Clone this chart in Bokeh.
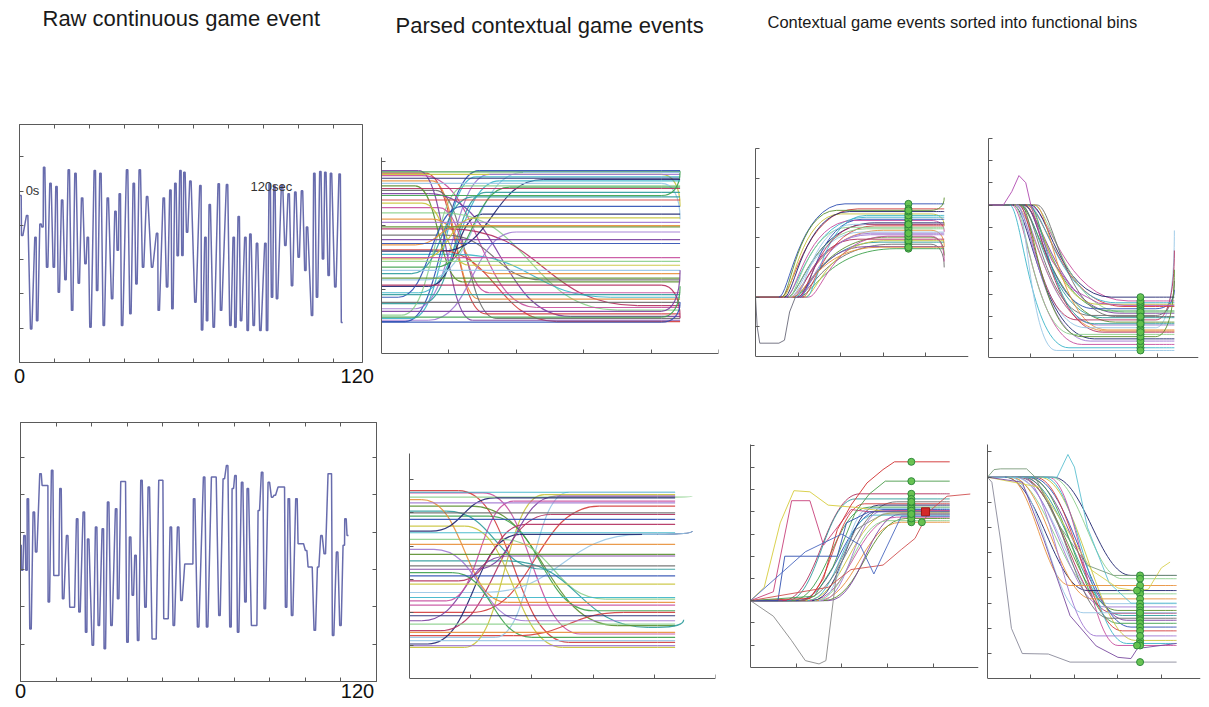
import numpy as np
from bokeh.plotting import figure
from bokeh.models import Range1d, LinearAxis, FixedTicker, Label
from bokeh.layouts import column, row
from bokeh.embed import file_html
from bokeh.resources import INLINE

# ---------------- data ----------------
# raw continuous event, top panel: turning points (seconds, level)
raw_top_t = [0.36, 0.96, 2.75, 4.18, 5.73, 6.33, 7.53, 8.24, 8.84, 9.92,
             11.11, 12.31, 13.26, 14.10, 15.29, 16.49, 17.68, 18.88, 20.07, 21.27,
             22.46, 23.66, 24.49, 25.45, 27.00, 27.84, 29.03, 30.23, 31.66, 33.21,
             34.41, 35.24, 35.96, 36.80, 38.59, 39.78, 40.98, 41.94, 43.13, 44.32,
             45.76, 47.55, 49.34, 49.94, 51.73, 52.93, 54.12, 54.84, 55.91, 56.75,
             57.71, 58.42, 59.14, 60.10, 61.29, 63.08, 64.87, 65.47, 66.67, 67.26,
             68.22, 69.65, 71.44, 72.28, 74.43, 75.63, 76.82, 77.42, 78.61, 79.45,
             81.00, 81.84, 82.80, 83.99, 85.18, 86.38, 88.17, 88.77, 89.72, 90.56,
             91.40, 92.35, 94.15, 95.34, 96.53, 97.73, 98.92, 100.12, 101.31, 102.51,
             103.11, 104.90, 105.73, 106.69, 107.89, 108.84, 109.68, 110.87, 111.71, 113.26,
             114.81, 115.65]
raw_top_v = [4.87, 3.70, 4.29, 0.98, 3.65, 1.22, 4.04, 3.95, 5.69, 2.78,
             5.23, 2.78, 5.13, 2.05, 4.74, 2.41, 5.62, 1.52, 5.52, 2.31,
             4.80, 2.88, 3.65, 1.03, 5.60, 2.10, 5.52, 1.08, 4.80, 1.86,
             4.41, 3.27, 4.92, 1.08, 5.62, 1.42, 5.23, 2.29, 5.62, 2.78,
             4.84, 2.78, 3.77, 1.52, 4.80, 2.20, 5.03, 1.57, 5.23, 3.11,
             5.60, 3.12, 5.55, 3.80, 5.29, 1.76, 5.16, 0.95, 3.65, 1.22,
             4.61, 1.03, 5.21, 1.52, 5.19, 1.08, 3.65, 1.03, 4.26, 1.22,
             3.65, 0.93, 3.75, 1.08, 3.48, 0.93, 3.48, 0.93, 5.21, 1.90,
             5.16, 1.86, 5.16, 3.41, 4.92, 2.24, 4.97, 3.07, 5.01, 2.68,
             3.95, 1.37, 5.52, 1.90, 5.57, 3.02, 5.55, 2.54, 5.52, 2.20,
             5.50, 1.17]

# raw continuous event, bottom panel
raw_bot_t = [0.0, 0.56, 1.35, 2.02, 2.47, 3.37, 4.49, 5.28, 6.74, 7.53,
             8.99, 9.55, 10.67, 11.46, 12.70, 13.48, 14.38, 15.73, 16.85, 17.98,
             19.10, 19.89, 21.35, 22.13, 22.81, 24.38, 25.50, 26.40, 27.75, 28.42,
             29.55, 30.67, 32.24, 32.92, 34.04, 35.16, 36.06, 36.96, 37.86, 38.76,
             39.66, 40.78, 42.13, 43.25, 44.60, 45.50, 46.85, 47.75, 48.53, 49.55,
             50.67, 51.68, 53.14, 54.26, 55.61, 57.86, 58.53, 59.88, 61.90, 62.91,
             64.60, 65.72, 67.07, 68.53, 69.66, 70.78, 71.57, 72.46, 73.36, 74.71,
             75.83, 76.62, 78.08, 79.43, 80.33, 81.45, 82.35, 83.70, 84.82, 85.72,
             87.07, 88.75, 89.54, 90.44, 91.56, 93.02, 93.81, 95.16, 96.28, 97.18,
             98.08, 99.20, 100.33, 101.45, 102.57, 103.92, 104.59, 105.38, 106.73, 107.85,
             108.98, 109.54, 110.32]
raw_bot_v = [3.65, 2.98, 3.91, 2.98, 4.90, 1.41, 4.54, 3.47, 5.57, 5.25,
             5.25, 2.13, 5.66, 2.84, 2.84, 5.17, 2.22, 3.91, 1.99, 1.99,
             4.36, 1.86, 4.54, 1.32, 3.82, 0.97, 4.14, 1.50, 4.09, 0.88,
             4.81, 1.50, 4.63, 2.22, 5.36, 5.36, 1.05, 3.87, 2.31, 3.38,
             1.10, 5.39, 1.99, 5.21, 1.14, 1.14, 5.39, 5.39, 1.68, 1.68,
             4.14, 1.50, 4.14, 2.17, 3.15, 3.15, 4.90, 1.46, 5.48, 1.46,
             5.48, 5.48, 1.77, 5.43, 5.79, 1.46, 5.17, 5.52, 1.32, 5.34,
             2.13, 5.17, 1.50, 1.50, 4.58, 5.61, 1.95, 5.34, 4.94, 4.99,
             5.21, 5.21, 1.99, 4.90, 1.77, 4.90, 3.69, 3.69, 3.51, 3.07,
             3.07, 1.37, 3.07, 3.91, 3.42, 5.57, 5.57, 1.23, 3.47, 1.50,
             3.65, 4.36, 3.91]

# time-axis end labels of the raw panels (position in seconds, text)
raw_top_end_t = [0, 121.1]
raw_bot_end_t = [0, 113.6]
raw_end_text = ["0", "120"]

# parsed contextual events, top: start level, transition start/end, plateau, final level
p2_start = [2.86, 2.84, 0.50, 2.82, 2.80, 0.55, 2.78, 2.74, 0.60, 2.70,
            2.66, 0.70, 2.62, 2.58, 0.78, 2.55, 2.50, 2.47, 0.88, 2.40,
            2.35, 0.95, 2.28, 1.05, 2.20, 2.10, 1.15, 2.05, 1.98, 1.95,
            1.25, 1.85, 1.78, 1.35, 1.72, 1.62, 1.48, 1.55, 1.50, 1.60,
            1.44, 1.70, 1.30, 0.52, 1.18, 1.07, 0.92, 0.80, 0.66, 0.57, 0.49]
p2_t0 = [0.55, 0, 0.35, 0.65, 0, 0.45, 0.60, 0, 0.30, 0.75,
         0, 0.50, 0.50, 0, 0.60, 0.80, 0.70, 0, 0.25, 0,
         0.60, 0.55, 0.85, 0.70, 0.90, 0.75, 0.65, 0, 0, 1.00,
         0.45, 0.95, 0, 0.80, 0, 0.80, 0.60, 1.10, 0, 0.90,
         0, 0.50, 0, 0.70, 0, 0, 0, 0, 0, 0, 0]
p2_t1 = [1.35, 0, 1.45, 1.55, 0, 1.40, 2.30, 0, 1.25, 1.45,
         0, 1.60, 1.20, 0, 1.55, 1.70, 2.80, 0, 1.20, 0,
         1.30, 1.75, 1.60, 1.50, 3.50, 1.65, 2.10, 0, 0, 3.80,
         1.35, 2.40, 0, 1.90, 0, 2.60, 1.40, 3.40, 0, 2.40,
         0, 1.20, 0, 2.00, 0, 0, 0, 0, 0, 0, 0]
p2_level = [0.52, 2.84, 2.86, 0.62, 2.80, 2.76, 0.72, 2.74, 2.62, 0.85,
            2.66, 2.80, 1.12, 2.58, 2.52, 0.55, 0.58, 2.47, 2.30, 2.40,
            1.38, 2.70, 0.95, 2.18, 0.68, 1.25, 2.83, 2.05, 1.98, 0.75,
            2.45, 1.15, 1.78, 2.60, 1.72, 0.50, 2.12, 0.88, 1.50, 2.72,
            1.44, 2.00, 1.30, 1.90, 1.18, 1.07, 0.92, 0.80, 0.66, 0.57, 0.49]
p2_end = [0.52, 2.84, 2.86, 0.62, 2.30, 2.76, 0.72, 2.74, 2.62, 0.85,
          2.10, 2.80, 1.12, 2.58, 2.52, 0.55, 0.58, 2.85, 2.30, 2.40,
          1.38, 2.70, 0.95, 2.18, 0.68, 1.25, 2.83, 2.05, 1.98, 0.75,
          2.45, 1.15, 1.78, 2.60, 1.72, 0.50, 2.12, 0.88, 1.50, 2.72,
          1.44, 2.00, 1.30, 1.90, 1.18, 0.55, 0.92, 0.80, 1.30, 1.05, 0.80]
p2_last_t = 4.43

# parsed contextual events, bottom
p6_start = [5.67, 0.95, 5.62, 5.60, 1.05, 5.47, 5.40, 1.25, 5.30, 5.20,
            1.45, 5.05, 5.00, 1.75, 4.90, 4.80, 2.00, 4.60, 4.40, 2.35,
            4.45, 4.20, 4.05, 2.60, 3.90, 3.75, 2.95, 3.55, 3.40, 3.30,
            3.20, 3.10, 1.30, 2.85, 2.45, 2.22, 1.90, 1.65, 1.40, 1.15, 1.00]
p6_t0 = [0.80, 0.90, 0, 1.20, 0.30, 0, 0.20, 1.40, 0, 1.00,
         0.50, 0.60, 0, 0.20, 1.30, 0, 1.00, 0.90, 0, 0.60,
         0.35, 1.50, 0, 1.20, 0.40, 0, 0.80, 1.60, 0, 1.10,
         0.70, 0, 1.70, 0, 0, 0, 0, 0, 0, 0, 0]
p6_t1 = [2.60, 2.20, 0, 2.80, 1.80, 0, 1.60, 2.60, 0, 3.40,
         2.30, 2.20, 0, 1.60, 3.00, 0, 3.10, 2.50, 0, 1.70,
         1.40, 3.20, 0, 3.80, 1.90, 0, 1.90, 3.90, 0, 2.40,
         2.00, 0, 3.50, 0, 0, 0, 0, 0, 0, 0, 0]
p6_level = [1.10, 5.55, 5.62, 1.35, 4.35, 5.47, 2.30, 5.62, 5.30, 1.60,
            4.95, 3.30, 5.00, 3.70, 2.05, 4.80, 5.20, 0.95, 4.40, 5.35,
            5.45, 2.40, 4.05, 4.35, 1.75, 3.75, 4.65, 1.55, 3.40, 5.50,
            1.25, 3.10, 2.00, 2.85, 2.45, 2.22, 1.90, 1.65, 1.40, 1.15, 1.00]
p6_end = [1.10, 5.55, 5.62, 1.35, 4.45, 5.50, 2.30, 5.62, 5.30, 1.60,
          4.95, 3.30, 5.00, 3.70, 2.05, 4.80, 5.20, 0.95, 4.40, 5.35,
          5.45, 2.40, 4.05, 4.45, 1.75, 3.75, 4.65, 1.78, 3.40, 5.50,
          1.25, 3.10, 2.00, 2.85, 2.45, 2.22, 1.90, 1.65, 1.40, 1.15, 1.00]
p6_last_t = [4.34, 4.34, 4.34, 4.34, 4.62, 4.62, 4.34, 4.34, 4.34, 4.34,
             4.34, 4.34, 4.34, 4.34, 4.34, 4.34, 4.34, 4.34, 4.34, 4.34,
             4.34, 4.34, 4.34, 4.62, 4.34, 4.34, 4.34, 4.48, 4.34, 4.34,
             4.34, 4.34, 4.34, 4.34, 4.34, 4.34, 4.34, 4.34, 4.34, 4.34, 4.34]

# functional bin 1 (top): rising events
p3_base = 2.0
p3_t0 = [0.55, 0.60, 0.65, 0.70, 0.72, 0.75, 0.78, 0.80, 0.82, 0.85,
         0.88, 0.90, 0.92, 0.95, 0.98, 1.00, 1.05, 1.10, 1.15, 1.20,
         1.25, 0.68, 0.76, 0.86, 0.94, 1.02, 0.62, 1.00]
p3_t1 = [2.10, 2.40, 2.00, 2.60, 2.30, 2.80, 2.20, 3.00, 2.50, 2.70,
         3.10, 2.40, 2.90, 3.20, 2.60, 3.30, 2.50, 2.80, 3.00, 2.60,
         3.10, 2.20, 2.60, 2.90, 2.30, 2.70, 1.90, 2.60]
p3_level = [5.14, 4.97, 4.80, 4.69, 4.58, 4.50, 4.35, 4.25, 4.19, 4.10,
            4.02, 3.95, 3.85, 3.78, 3.70, 3.63, 4.62, 4.40, 3.90, 4.75,
            4.05, 4.88, 4.30, 3.68, 4.45, 4.15, 4.92, 4.45]
p3_end = [5.14, 4.97, 4.40, 4.69, 4.20, 4.50, 4.35, 3.70, 4.19, 4.10,
          3.40, 3.95, 3.85, 3.00, 3.70, 3.63, 4.62, 4.40, 3.90, 4.75,
          3.20, 4.88, 4.30, 3.68, 4.45, 4.15, 5.35, 4.45]
p3_dip_x = [0.0, 0.04, 0.10, 0.55, 0.68, 0.80, 0.95]
p3_dip_y = [2.0, 1.0, 0.45, 0.45, 0.55, 1.5, 2.05]
p3_mark_t = 3.59

# functional bin 2 (top): falling events
p4_base = 7.0
p4_t0 = [0.50, 0.55, 0.58, 0.60, 0.62, 0.65, 0.68, 0.70, 0.72, 0.75,
         0.78, 0.80, 0.82, 0.85, 0.88, 0.90, 0.92, 0.95, 1.00, 1.05,
         1.10, 0.70, 0.64, 0.76, 0.86, 0.96, 1.15]
p4_t1 = [1.90, 2.20, 2.50, 2.00, 2.80, 2.30, 2.60, 3.00, 2.10, 2.70,
         2.40, 3.10, 2.90, 2.50, 3.20, 2.60, 3.00, 3.30, 2.90, 3.20,
         2.80, 1.60, 2.40, 2.20, 2.70, 2.50, 3.00]
p4_level = [0.60, 0.75, 1.00, 1.20, 1.35, 1.50, 1.62, 1.75, 1.85, 1.95,
            2.05, 2.15, 2.25, 2.35, 2.45, 2.55, 2.62, 2.70, 2.87, 2.20,
            1.40, 0.48, 0.90, 1.10, 1.30, 1.68, 2.00]
p4_end = [0.60, 0.75, 1.00, 1.20, 1.35, 5.86, 1.62, 1.75, 4.96, 1.95,
          3.60, 2.15, 2.25, 3.20, 2.45, 2.55, 2.62, 2.70, 2.87, 2.20,
          1.40, 0.48, 0.90, 4.10, 1.30, 1.68, 2.00]
p4_bump_x = [0.0, 0.35, 0.55, 0.72, 0.88, 1.0, 1.2, 1.5, 2.0, 2.6, 3.2, 4.39]
p4_bump_y = [7.0, 7.0, 7.6, 8.32, 8.0, 7.0, 5.8, 4.5, 3.2, 2.6, 2.5, 2.5]
p4_mark_t = 3.59

# functional bin 1 (bottom)
p7_base = 3.0
p7_t0 = [0.9, 1.0, 1.1, 1.2, 1.25, 1.3, 1.35, 1.4, 1.45, 1.5, 1.55, 1.6, 0.7, 0.8, 1.05, 1.7]
p7_t1 = [2.6, 2.9, 2.5, 3.1, 2.7, 3.2, 2.8, 3.0, 3.3, 2.6, 2.9, 3.4, 2.4, 2.3, 3.2, 3.3]
p7_level = [7.21, 7.10, 7.36, 6.95, 6.85, 6.76, 7.30, 6.60, 6.53, 7.15, 7.05, 6.70, 7.81, 7.58, 7.45, 6.90]
p7_sp_x = [
    [0, 0.3, 0.65, 0.95, 1.3, 1.7, 2.3, 3.0, 4.36],
    [0, 0.5, 0.9, 1.3, 1.6, 2.2, 2.6, 3.2, 4.36],
    [0, 0.5, 0.9, 1.2, 1.5, 1.65, 1.9, 2.3, 2.9, 4.36],
    [0, 1.3, 1.6, 1.9, 2.2, 2.55, 2.9, 3.15, 4.36],
    [0, 1.4, 1.8, 2.3, 2.6, 2.95, 4.36],
    [0, 0.6, 0.75, 1.9, 2.1, 2.6, 4.36],
    [0, 1.7, 2.2, 2.9, 3.3, 3.6, 3.9, 4.3, 4.81],
    [0, 1.2, 2.0, 2.4, 2.7, 3.0, 3.3, 4.36],
]
p7_sp_y = [
    [3.0, 3.6, 6.5, 7.95, 7.9, 7.3, 7.2, 7.0, 7.0],
    [3.0, 3.4, 7.5, 7.5, 5.5, 7.1, 7.0, 7.05, 7.05],
    [3.0, 2.3, 1.2, 0.3, 0.15, 0.3, 4.5, 6.2, 6.9, 6.9],
    [3.0, 3.1, 4.0, 6.2, 7.3, 8.3, 8.9, 9.25, 9.25],
    [3.0, 3.2, 4.5, 7.0, 7.8, 8.38, 8.38],
    [3.0, 3.0, 5.0, 5.0, 6.5, 7.0, 7.0],
    [3.0, 3.6, 4.4, 4.6, 5.3, 5.8, 7.0, 7.7, 7.8],
    [3.0, 5.2, 6.0, 5.5, 4.2, 5.5, 6.8, 6.8],
]
p7_mark_t = 3.52
p7_top_marks = [9.25, 8.38]
p7_red_t = [3.83]
p7_red_v = [7.0]
p7_extra_t = [3.75]
p7_extra_v = [6.53]

# functional bin 2 (bottom)
p8_base = 8.0
p8_t0 = [0.40, 0.50, 0.55, 0.60, 0.65, 0.70, 0.75, 0.80, 0.85, 0.90, 0.95,
         1.00, 1.10, 1.20, 1.30, 1.40, 1.50, 1.45, 0.45, 0.52, 0.78]
p8_t1 = [2.30, 2.60, 2.40, 2.80, 2.70, 3.00, 2.90, 3.10, 2.80, 3.20, 3.00,
         3.30, 3.10, 3.40, 3.20, 3.00, 3.30, 3.10, 1.90, 2.20, 2.50]
p8_level = [3.50, 3.37, 3.17, 2.98, 2.85, 2.71, 2.60, 2.51, 2.40, 2.32, 2.20,
            2.05, 1.90, 1.52, 1.40, 1.32, 4.10, 3.97, 3.70, 2.62, 1.70]
p8_sp_x = [
    [0, 0.1, 0.3, 0.55, 0.8, 1.4, 1.9, 4.35],
    [0, 1.2, 1.6, 1.85, 2.0, 2.3, 2.8, 3.3, 4.35],
    [0, 1.2, 1.8, 2.4, 3.0, 3.4, 3.7, 4.0, 4.2],
    [0, 0.15, 0.3, 0.9, 1.1, 1.6, 2.3, 2.9, 4.35],
    [0, 0.8, 1.3, 1.9, 2.5, 3.0, 3.3, 3.45, 4.35],
]
p8_sp_y = [
    [8.0, 7.8, 5.5, 2.0, 1.0, 0.98, 0.66, 0.66],
    [8.0, 8.0, 8.0, 8.9, 8.4, 6.0, 3.8, 3.0, 3.0],
    [8.0, 7.6, 6.0, 4.3, 3.6, 3.5, 3.55, 4.4, 4.63],
    [8.0, 8.3, 8.33, 8.33, 8.0, 6.2, 4.5, 4.1, 4.1],
    [8.0, 7.8, 5.5, 2.5, 1.3, 0.85, 0.8, 1.2, 1.4],
]
p8_mark_t = 3.51
p8_low_marks = [0.66]
p8_extra_t = [3.44, 3.44]
p8_extra_v = [3.50, 1.32]

# ---------------- styling ----------------
PAL = ['#7b3fa0', '#3da14b', '#2e4fb2', '#d33c3c', '#c9c33a', '#3bb5c9', '#c64f9e',
       '#1e246e', '#8ccf8c', '#e8903a', '#98c6e6', '#a078d2', '#5b8f2e', '#b22f5e',
       '#2f9c9c', '#6b6b6b']
P7_SP_COLORS = ['#d6cc3c', '#c8407a', '#8a8a8a', '#d03030', '#4a9c4a', '#3050b0',
                '#d05050', '#4a68c0']
P8_SP_COLORS = ['#8a8a9a', '#5cc0d0', '#d8d050', '#7a9a7a', '#7a4aa0']
AX = '#5a5a5a'
RAW = '#585ca4'
DOT_FILL = '#63c24c'
DOT_LINE = '#2f8a3c'
FONT = "Liberation Sans"


def make_fig(w, h, xr, yr, bl, br, bt, bb):
    p = figure(width=w, height=h, x_range=Range1d(*xr), y_range=Range1d(*yr),
               output_backend="svg", toolbar_location=None,
               x_axis_location=None, y_axis_location=None,
               min_border_left=bl, min_border_right=br,
               min_border_top=bt, min_border_bottom=bb)
    p.grid.visible = False
    p.outline_line_color = None
    p.background_fill_color = "white"
    p.border_fill_color = "white"
    return p


def add_axis(p, loc, ticks, bounds=None, fixed=None):
    ax = LinearAxis(ticker=FixedTicker(ticks=ticks))
    if bounds is not None:
        ax.bounds = bounds
    if fixed is not None:
        ax.fixed_location = fixed
    ax.major_tick_in = 4
    ax.major_tick_out = 0
    ax.minor_tick_line_color = None
    ax.major_label_text_font_size = "1px"
    ax.major_label_text_color = None
    ax.major_label_standoff = 0
    ax.axis_line_color = AX
    ax.major_tick_line_color = AX
    p.add_layout(ax, loc)


def add_end_labels(p, ticks, texts, size, standoff):
    ax = LinearAxis(ticker=FixedTicker(ticks=ticks))
    ax.major_label_overrides = {t: s for t, s in zip(ticks, texts)}
    ax.axis_line_color = None
    ax.major_tick_line_color = None
    ax.minor_tick_line_color = None
    ax.major_tick_in = 0
    ax.major_tick_out = 0
    ax.major_label_text_font = FONT
    ax.major_label_text_font_size = size
    ax.major_label_text_color = "#111111"
    ax.major_label_standoff = standoff
    p.add_layout(ax, "below")


def draw_family(p, y0, t0, t1, y1, xb, xe, y2, k0, k1, off=0, lw=1.0, alpha=0.9):
    y0 = np.asarray(y0, float)
    t0 = np.asarray(t0, float)
    t1 = np.asarray(t1, float)
    y1 = np.asarray(y1, float)
    y2 = np.asarray(y2, float)
    n = len(t0)
    xe = np.broadcast_to(np.asarray(xe, float), (n,)).copy()
    xbv = np.full(n, xb)
    cols = [PAL[(i + off) % len(PAL)] for i in range(n)]
    d = t1 - t0
    kw = dict(line_color=cols, line_width=lw, line_alpha=alpha)
    p.segment(x0=np.zeros(n), y0=y0, x1=t0, y1=y0, **kw)
    p.bezier(x0=t0, y0=y0, x1=t1, y1=y1, cx0=t0 + k0 * d, cy0=y0,
             cx1=t0 + k1 * d, cy1=y1, **kw)
    p.segment(x0=t1, y0=y1, x1=xbv, y1=y1, **kw)
    e = xe - xbv
    p.bezier(x0=xbv, y0=y1, x1=xe, y1=y2, cx0=xbv + 0.6 * e, cy0=y1,
             cx1=xe, cy1=y1 + 0.35 * (y2 - y1), **kw)


def draw_special(p, xs_list, ys_list, colors, lw=1.0, alpha=0.9):
    p.multi_line(xs=xs_list, ys=ys_list, line_color=colors, line_width=lw, line_alpha=alpha)


def plateau(t, v, h=0.25):
    t = np.asarray(t, float)
    v = np.asarray(v, float)
    return np.column_stack([t - h, t + h]).ravel(), np.repeat(v, 2)


def dots(p, t, levels, size=7):
    lv = np.asarray(levels, float)
    p.scatter(x=np.full(len(lv), t), y=lv, marker="circle", size=size,
              fill_color=DOT_FILL, line_color=DOT_LINE, line_width=1, fill_alpha=0.95)


def lab(p, x, y, text, size, align="left", color="#1a1a1a", font=FONT):
    p.add_layout(Label(x=x, y=y, text=text, text_font=font, text_font_size=size,
                       text_align=align, text_baseline="middle", text_color=color))


# ---------------- title band ----------------
tf = figure(width=1207, height=110, x_range=Range1d(0, 1207), y_range=Range1d(0, 110),
            output_backend="svg", toolbar_location=None,
            x_axis_location=None, y_axis_location=None, min_border=0)
tf.grid.visible = False
tf.outline_line_color = None
lab(tf, 42, 92, "Raw continuous game event", "22px")
lab(tf, 395, 85, "Parsed contextual game events", "22px")
lab(tf, 767, 89, "Contextual game  events sorted into functional bins", "16.5px")

# ---------------- row 1 (shared frame top/bottom) ----------------
f1 = make_fig(377, 290, (0, 123), (0, 6.94), 19, 15, 14, 38)
f1.outline_line_color = AX
tick_x1 = [12.5, 25, 37.5, 50, 62.5, 75, 87.5, 100, 112.5]
add_axis(f1, "below", tick_x1)
add_end_labels(f1, raw_top_end_t, raw_end_text, "20px", 6)
add_axis(f1, "above", tick_x1)
add_axis(f1, "left", [1, 2, 3, 4, 5, 6])
xs, ys = plateau(raw_top_t, raw_top_v)
f1.line(xs, ys, line_color=RAW, line_width=1.5, line_alpha=0.9)
lab(f1, 2.2, 5.03, "0s", "13px", color="#333333")
lab(f1, 82.8, 5.13, "120sec", "13px", color="#333333")

f2 = make_fig(361, 290, (0, 5), (-0.14, 3.58), 4, 20, 14, 38)
add_axis(f2, "below", [1, 2, 3, 4, 5], fixed=0)
add_axis(f2, "left", [1, 2, 3], bounds=(0, 3.06))
draw_family(f2, p2_start, p2_t0, p2_t1, p2_level, 4.15, p2_last_t, p2_end, 0.5, 0.5, lw=1.2)

f3 = make_fig(237, 290, (0, 5), (-0.20, 7.81), 17, 7, 14, 38)
add_axis(f3, "below", [1, 2, 3, 4], fixed=0)
add_axis(f3, "left", [1, 2, 3, 4, 5, 6, 7], bounds=(0, 7))
draw_family(f3, np.full(len(p3_t0), p3_base), p3_t0, p3_t1, p3_level, 4.12, 4.43,
            p3_end, 0.15, 0.3, off=2)
draw_special(f3, [p3_dip_x], [p3_dip_y], ['#6a6a7a'])
dots(f3, p3_mark_t, p3_level)

f4 = make_fig(232, 290, (0, 4.96), (-0.06, 10.61), 13, 9, 14, 38)
add_axis(f4, "below", [1, 2, 3, 4], fixed=0.15)
add_axis(f4, "left", [1, 2, 3, 4, 5, 6, 7, 8, 9, 10], bounds=(0.15, 10))
draw_family(f4, np.full(len(p4_t0), p4_base), p4_t0, p4_t1, p4_level, 3.95, 4.39,
            p4_end, 0.2, 0.35, off=5)
draw_special(f4, [p4_bump_x], [p4_bump_y], ['#b04ab0'])
dots(f4, p4_mark_t, p4_level)

# ---------------- row 2 (shared frame top/bottom) ----------------
f5 = make_fig(377, 306, (0, 120), (0, 6.94), 20, 1, 22, 25)
f5.outline_line_color = AX
tick_x5 = [12, 24, 36, 48, 60, 72, 84, 96, 108]
add_axis(f5, "below", tick_x5)
add_end_labels(f5, raw_bot_end_t, raw_end_text, "20px", 2)
add_axis(f5, "above", tick_x5)
add_axis(f5, "left", [1, 2, 3, 4, 5, 6])
add_axis(f5, "right", [1, 2, 3, 4, 5, 6])
xs, ys = plateau(raw_bot_t, raw_bot_v)
f5.line(xs, ys, line_color=RAW, line_width=1.5, line_alpha=0.9)

f6 = make_fig(361, 306, (0, 5), (-0.08, 7.72), 32, 23, 22, 25)
add_axis(f6, "below", [1, 2, 3, 4, 5], fixed=0)
add_axis(f6, "left", [1, 2, 3, 4, 5, 6], bounds=(0, 6.8))
draw_family(f6, p6_start, p6_t0, p6_t1, p6_level, 4.05, p6_last_t, p6_end, 0.5, 0.5,
            off=3, lw=1.2)

f7 = make_fig(242, 306, (0, 4.99), (-0.64, 11.02), 12, 2, 22, 25)
add_axis(f7, "below", [1, 2, 3, 4], fixed=0)
add_axis(f7, "left", [1, 2, 3, 4, 5, 6, 7, 8, 9, 10], bounds=(0, 10.05))
draw_family(f7, np.full(len(p7_t0), p7_base), p7_t0, p7_t1, p7_level, 4.1, 4.36,
            p7_level, 0.45, 0.55, off=1)
draw_special(f7, p7_sp_x, p7_sp_y, P7_SP_COLORS)
dots(f7, p7_mark_t, p7_level)
dots(f7, p7_mark_t, p7_top_marks)
dots(f7, p7_extra_t[0], p7_extra_v)
f7.scatter(x=p7_red_t, y=p7_red_v, marker="square", size=8, fill_color="#d42a2a",
           line_color="#a01818")

f8 = make_fig(227, 306, (0, 4.9), (-0.11, 10.17), 7, 7, 22, 25)
add_axis(f8, "below", [1, 2, 3, 4], fixed=0)
add_axis(f8, "left", [1, 2, 3, 4, 5, 6, 7, 8, 9], bounds=(0, 9.3))
draw_family(f8, np.full(len(p8_t0), p8_base), p8_t0, p8_t1, p8_level, 4.1, 4.35,
            p8_level, 0.4, 0.6, off=7)
draw_special(f8, p8_sp_x, p8_sp_y, P8_SP_COLORS)
dots(f8, p8_mark_t, p8_level)
dots(f8, p8_mark_t, p8_low_marks)
dots(f8, p8_extra_t[0], p8_extra_v)

layout = column(tf, row(f1, f2, f3, f4, spacing=0), row(f5, f6, f7, f8, spacing=0), spacing=0)

open("out.html", "w").write(file_html(layout, INLINE))
